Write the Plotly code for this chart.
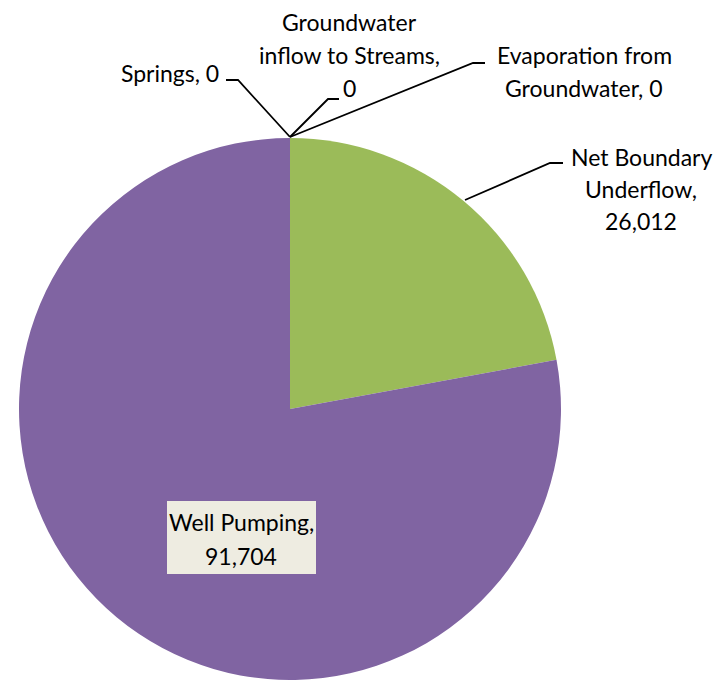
import plotly.graph_objects as go

# Groundwater budget outflows (acre-feet)
labels = ["Net Boundary Underflow", "Well Pumping", "Springs",
          "Groundwater inflow to Streams", "Evaporation from Groundwater"]
values = [26012, 91704, 0, 0, 0]
colors = ["#9BBB59", "#8064A2", "#4BACC6", "#F79646", "#C0504D"]

W, H = 725, 680
FONT = "Lato, Open Sans, sans-serif"
FS = 23


def px(x, y):
    """Pixel position -> paper coordinates."""
    return x / W, 1 - y / H


fig = go.Figure(go.Pie(
    labels=labels,
    values=values,
    marker=dict(colors=colors, line=dict(width=0)),
    sort=False,
    direction="clockwise",
    rotation=0,
    textinfo="none",
    hoverinfo="label+value",
    showlegend=False,
    domain=dict(x=[18 / W, 562 / W], y=[0, 1 - 138 / H]),
))

# label placement: (words per line, anchor x, first line y, line step, xanchor)
label_style = {
    "Net Boundary Underflow": ([2, 1, 1], 641, 157, 32, "center"),
    "Well Pumping": ([2, 1], 241, 522, 34, "center"),
    "Springs": ([2], 221, 73, 32, "right"),
    "Groundwater inflow to Streams": ([1, 3, 1], 349, 22, 33, "center"),
    "Evaporation from Groundwater": ([2, 2], 584, 55, 33, "center"),
}

annotations = []
for name, val in zip(labels, values):
    counts, x0, y0, step, anchor = label_style[name]
    words = f"{name}, {val:,}".split(" ")
    lines, k = [], 0
    for c in counts:
        lines.append(" ".join(words[k:k + c]))
        k += c
    for i, line in enumerate(lines):
        ax, ay = px(x0, y0 + i * step)
        annotations.append(dict(
            x=ax, y=ay, xref="paper", yref="paper", text=line,
            showarrow=False, xanchor=anchor, yanchor="middle",
            font=dict(family=FONT, size=FS, color="#000000"),
        ))

shapes = []
# background box behind the Well Pumping label
bx0, by0 = px(167, 574)
bx1, by1 = px(316, 501)
shapes.append(dict(type="rect", xref="paper", yref="paper",
                   x0=bx0, y0=by0, x1=bx1, y1=by1,
                   fillcolor="#EEECE1", line=dict(width=0), layer="above"))

# leader lines (pixel polylines)
leaders = [
    [(226, 80), (238, 80), (290, 137)],
    [(339, 99), (328, 99), (290, 137)],
    [(485, 63), (473, 63), (290, 137)],
    [(563, 163), (550, 163), (465, 200)],
]
for pts in leaders:
    path = ""
    for i, (x, y) in enumerate(pts):
        px_, py_ = px(x, y)
        path += ("M" if i == 0 else "L") + f"{px_},{py_} "
    shapes.append(dict(type="path", xref="paper", yref="paper", path=path.strip(),
                       line=dict(color="#000000", width=1.8)))

fig.update_layout(
    width=W, height=H,
    margin=dict(l=0, r=0, t=0, b=0),
    paper_bgcolor="white",
    plot_bgcolor="white",
    annotations=annotations,
    shapes=shapes,
)

fig.write_html("out.html")
